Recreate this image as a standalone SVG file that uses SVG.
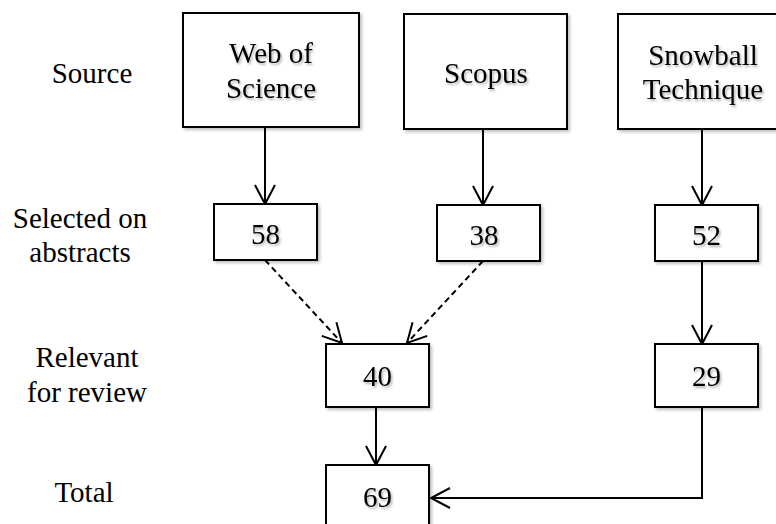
<svg xmlns="http://www.w3.org/2000/svg" width="776" height="524" viewBox="0 0 776 524">
<defs>
<style>
.box{fill:#fff;stroke:#000;stroke-width:2;filter:url(#sh)}
.t{font-family:"Liberation Serif","Times New Roman",serif;font-size:29px;fill:#000;text-anchor:middle;filter:url(#tsh)}
.lbl{font-family:"Liberation Serif","Times New Roman",serif;font-size:29px;fill:#000;text-anchor:middle}
.c{fill:none;stroke:#000;stroke-width:2;marker-end:url(#ah)}
.d{stroke-dasharray:6 4}
</style>
<filter id="sh" x="-10%" y="-10%" width="130%" height="130%">
<feDropShadow dx="2" dy="2" stdDeviation="1.5" flood-color="#000" flood-opacity="0.25"/>
</filter>
<filter id="tsh" x="-10%" y="-20%" width="130%" height="150%">
<feDropShadow dx="1.5" dy="2" stdDeviation="1.2" flood-color="#000" flood-opacity="0.3"/>
</filter>
<marker id="ah" markerUnits="userSpaceOnUse" markerWidth="40" markerHeight="40" viewBox="-25 -20 40 40" refX="0" refY="0" orient="auto" overflow="visible">
<path d="M-19,-10 L0,0 L-19,10" fill="none" stroke="#000" stroke-width="2" stroke-dasharray="none"/>
</marker>
</defs>
<rect width="776" height="524" fill="#fff"/>
<g id="labels">
<text class="lbl" x="92" y="83">Source</text>
<text class="lbl" x="80" y="228">Selected on</text>
<text class="lbl" x="80" y="262">abstracts</text>
<text class="lbl" x="87" y="367">Relevant</text>
<text class="lbl" x="87" y="402">for review</text>
<text class="lbl" x="84" y="502">Total</text>
</g>
<g id="connectors">
<path class="c" d="M265,127 V204"/>
<path class="c" d="M483,129 V205"/>
<path class="c" d="M702,129 V205"/>
<path class="c d" d="M265,260 L342,343"/>
<path class="c d" d="M483,261 L407,343"/>
<path class="c" d="M702,261 V344"/>
<path class="c" d="M376,407 V465"/>
<path class="c" d="M702,407 V498 H431"/>
</g>
<g id="wos"><rect class="box" x="183" y="13" width="176" height="114"/><text class="t" x="271" y="63">Web of</text><text class="t" x="271" y="98">Science</text></g>
<g id="scopus"><rect class="box" x="404" y="14" width="163" height="115"/><text class="t" x="486" y="83">Scopus</text></g>
<g id="snowball"><rect class="box" x="618" y="14" width="170" height="115"/><text class="t" x="703" y="65">Snowball</text><text class="t" x="703" y="99">Technique</text></g>
<g id="n58"><rect class="box" x="214" y="204" width="103" height="56"/><text class="t" x="265.5" y="244">58</text></g>
<g id="n38"><rect class="box" x="437" y="205" width="103" height="56"/><text class="t" x="484" y="245">38</text></g>
<g id="n52"><rect class="box" x="655" y="205" width="103" height="56"/><text class="t" x="706.5" y="245">52</text></g>
<g id="n40"><rect class="box" x="326" y="344" width="103" height="63"/><text class="t" x="377.5" y="386">40</text></g>
<g id="n29"><rect class="box" x="655" y="344" width="103" height="63"/><text class="t" x="706.5" y="386">29</text></g>
<g id="n69"><rect class="box" x="326" y="465" width="103" height="70"/><text class="t" x="377.5" y="507">69</text></g>
</svg>
